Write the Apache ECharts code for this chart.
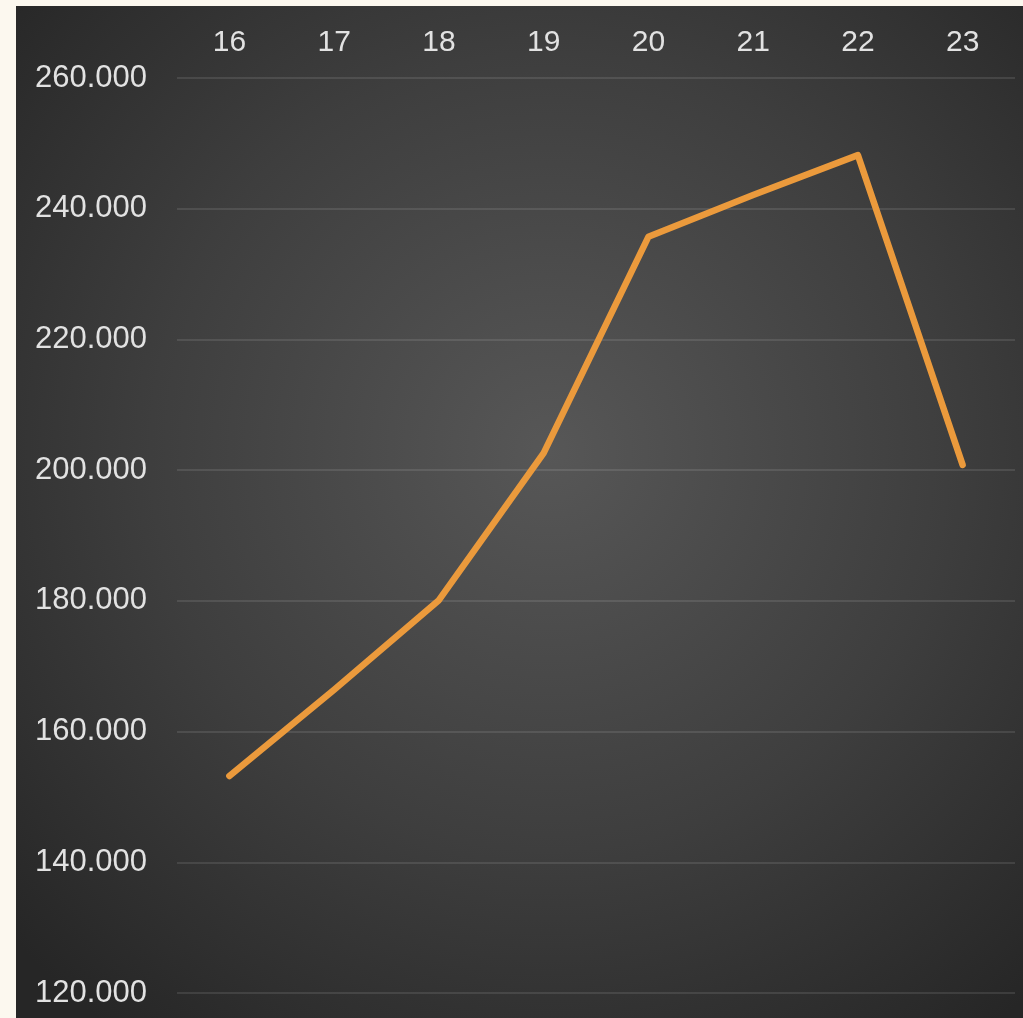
<!DOCTYPE html>
<html>
<head>
<meta charset="utf-8">
<script src="https://cdn.jsdelivr.net/npm/echarts@6/dist/echarts.min.js"></script>
<style>
html,body{margin:0;padding:0;background:#fcf8ef;}
#c{width:1023px;height:1018px;}
</style>
</head>
<body>
<div id="c"></div>
<script>
const categories = ['16','17','18','19','20','21','22','23'];
const values = [153200, 166400, 180100, 202600, 235700, 242100, 248200, 200800];
const yMin = 120000, yMax = 260000, yStep = 20000;

function fmt(v){
  return String(Math.round(v)).replace(/\B(?=(\d{3})+(?!\d))/g, '.');
}

const chart = echarts.init(document.getElementById('c'), null, {renderer:'canvas'});
chart.setOption({
  backgroundColor: '#fcf8ef',
  animation: false,
  graphic: [{
    type: 'rect',
    z: -10,
    shape: {x: 16, y: 6, width: 1007, height: 1012},
    style: {
      fill: {
        type: 'radial', x: 0.53, y: 0.44, r: 0.72,
        colorStops: [
          {offset: 0, color: '#575757'},
          {offset: 0.55, color: '#3e3e3e'},
          {offset: 1, color: '#262626'}
        ]
      }
    }
  }],
  grid: {left: 177, right: 8, top: 78, bottom: 25, containLabel: false},
  xAxis: {
    type: 'category',
    position: 'top',
    data: categories,
    boundaryGap: true,
    axisLine: {show: false},
    axisTick: {show: false},
    axisLabel: {color: '#e2e2e2', fontSize: 30, fontFamily: 'Liberation Sans', margin: 20}
  },
  yAxis: {
    type: 'value',
    min: yMin, max: yMax, interval: yStep,
    axisLine: {show: false},
    axisTick: {show: false},
    axisLabel: {color: '#e2e2e2', fontSize: 31, fontFamily: 'Liberation Sans', margin: 30, formatter: fmt},
    splitLine: {lineStyle: {color: 'rgba(255,255,255,0.1)', width: 2}}
  },
  series: [{
    type: 'line',
    data: values,
    symbol: 'none',
    lineStyle: {color: '#eb9a3c', width: 6.5, cap: 'round', join: 'round'}
  }]
});
</script>
</body>
</html>
